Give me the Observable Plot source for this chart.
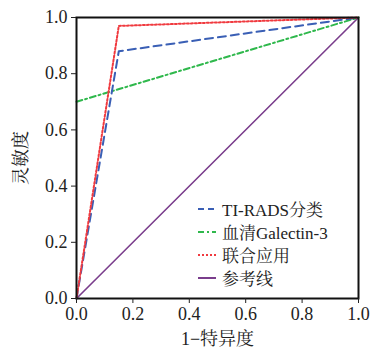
<!DOCTYPE html>
<html lang="en"><head><meta charset="utf-8">
<script src="https://cdn.jsdelivr.net/npm/d3@7"></script>
<script src="https://cdn.jsdelivr.net/npm/@observablehq/plot@0.6"></script>
<style>
body{margin:0;background:#fff;font-family:'Liberation Serif','Times New Roman',serif,'Noto Serif CJK SC';}
#wrap{position:relative;width:373px;height:354px;}
#legend{position:absolute;left:198px;top:197px;font-size:17px;color:#222;}
#legend .row{display:flex;align-items:center;height:23px;}
#legend svg{margin-right:6px;}
svg text, #legend span{font-family:'Liberation Serif','Times New Roman',serif,'Noto Serif CJK SC' !important;}
</style>
</head><body>
<div id="wrap"></div>
<script>
const seriesNames = ["TI-RADS分类", "血清Galectin-3", "联合应用", "参考线"];
const tiradsX = [0, 0.15, 1];
const tiradsY = [0, 0.88, 1];
const galectinX = [0, 1];
const galectinY = [0.70, 1];
const combinedX = [0, 0.15, 1];
const combinedY = [0, 0.97, 1];
const refX = [0, 1];
const refY = [0, 1];
const ticks = [0, 0.2, 0.4, 0.6, 0.8, 1.0];

const colors = ["#3a5fb5", "#2fb84c", "#f03a3f", "#7a3d8c"];
const dashes = ["8,5", "6,3,2,3", "2,2", null];
const FONT = "'Liberation Serif','Times New Roman',serif,'Noto Serif CJK SC'";

const toRows = (xs, ys) => xs.map((x, i) => ({x, y: ys[i]}));
const sets = [toRows(tiradsX, tiradsY), toRows(galectinX, galectinY), toRows(combinedX, combinedY), toRows(refX, refY)];
const order = [3, 1, 0, 2];

const chart = Plot.plot({
  width: 373, height: 354,
  marginLeft: 76, marginRight: 15, marginTop: 17, marginBottom: 56,
  style: {fontFamily: FONT, fontSize: "17px", color: "#222", background: "#fff"},
  x: {domain: [0, 1]},
  y: {domain: [0, 1]},
  marks: [
    ...order.map(i => Plot.line(sets[i], {x: "x", y: "y", stroke: colors[i], strokeWidth: i === 3 ? 1.6 : 2, strokeDasharray: dashes[i]})),
    Plot.frame({stroke: "#111", strokeWidth: 2}),
    Plot.axisX({ticks, tickFormat: d => d.toFixed(1), tickSize: 5, tickPadding: 4, label: "1−特异度", labelAnchor: "center", labelArrow: "none", labelOffset: 46, fontSize: 18, fontFamily: FONT}),
    Plot.axisY({ticks, tickFormat: d => d.toFixed(1), tickSize: 5, tickPadding: 4, label: "灵敏度", labelAnchor: "center", labelArrow: "none", labelOffset: 62, fontSize: 18, fontFamily: FONT})
  ]
});
document.getElementById("wrap").appendChild(chart);

const legend = document.createElement("div");
legend.id = "legend";
seriesNames.forEach((name, i) => {
  const row = document.createElement("div");
  row.className = "row";
  const s = `<svg width="18" height="10"><line x1="0" y1="5" x2="18" y2="5" stroke="${colors[i]}" stroke-width="2" ${dashes[i] ? `stroke-dasharray="${i===0?'6,4':dashes[i]}"` : ""}/></svg>`;
  row.innerHTML = s + `<span>${name}</span>`;
  legend.appendChild(row);
});
document.getElementById("wrap").appendChild(legend);
</script>
</body></html>
